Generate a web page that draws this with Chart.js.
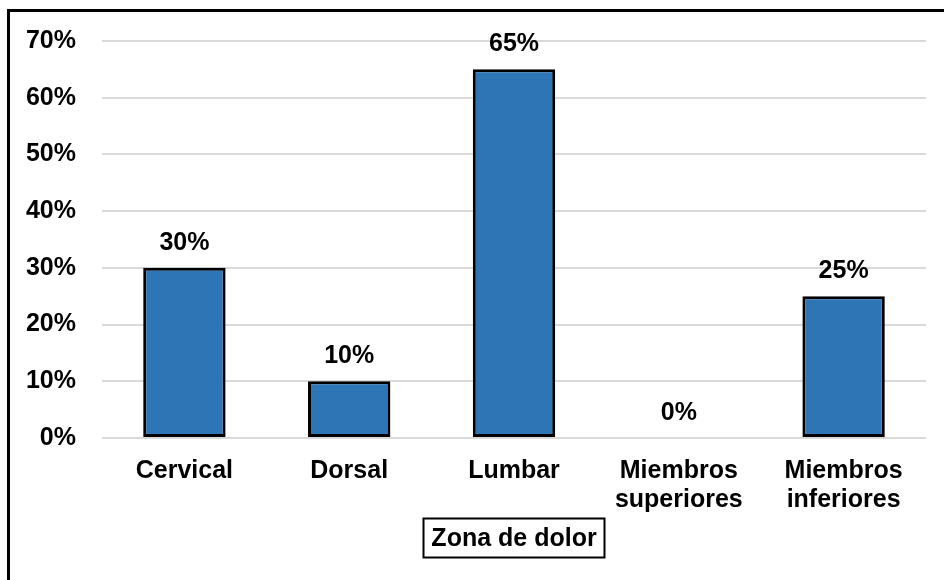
<!DOCTYPE html>
<html>
<head>
<meta charset="utf-8">
<script src="https://cdn.jsdelivr.net/npm/chart.js@4/dist/chart.umd.min.js"></script>
<style>
  html, body { margin: 0; padding: 0; background: #fff; }
  #box { width: 944px; height: 580px; }
</style>
</head>
<body>
<div id="box"><canvas id="zonaChart" width="944" height="580"></canvas></div>
<script>
// datos del grafico
const zonas = ['Cervical', 'Dorsal', 'Lumbar', ['Miembros', 'superiores'], ['Miembros', 'inferiores']];
const porcentajes = [30, 10, 65, 0, 25];
const yTicks = [0, 10, 20, 30, 40, 50, 60, 70];
const xTitle = 'Zona de dolor';

const barColor = '#2E75B6';
const gridColor = '#d9d9d9';
const fontFamily = '"Liberation Sans", Arial, sans-serif';
const fontSize = 25;

// marco negro (solo arriba e izquierda visibles)
const framePlugin = {
    id: 'frame',
    beforeDraw: function (chart) {
        const ctx = chart.ctx;
        ctx.save();
        ctx.fillStyle = '#fff';
        ctx.fillRect(0, 0, chart.width, chart.height);
        ctx.strokeStyle = '#000';
        ctx.lineWidth = 3;
        ctx.beginPath();
        ctx.moveTo(8.5, chart.height);
        ctx.lineTo(8.5, 10.5);
        ctx.lineTo(chart.width, 10.5);
        ctx.stroke();
        ctx.restore();
    }
};

// etiquetas de valor encima de cada barra
const valueLabels = {
    id: 'valueLabels',
    afterDatasetsDraw: function (chart) {
        const ctx = chart.ctx;
        const meta = chart.getDatasetMeta(0);
        ctx.save();
        ctx.font = 'bold ' + fontSize + 'px ' + fontFamily;
        ctx.fillStyle = '#000';
        ctx.textAlign = 'center';
        ctx.textBaseline = 'middle';
        meta.data.forEach(function (bar, i) {
            ctx.fillText(porcentajes[i] + '%', bar.x, bar.y - 25);
        });
        ctx.restore();
    }
};

// recuadro alrededor del titulo del eje x
const titleBox = {
    id: 'titleBox',
    afterDraw: function (chart) {
        const ctx = chart.ctx;
        ctx.save();
        ctx.font = 'bold ' + fontSize + 'px ' + fontFamily;
        const w = ctx.measureText(xTitle).width;
        const cx = (chart.chartArea.left + chart.chartArea.right) / 2;
        ctx.strokeStyle = '#000';
        ctx.lineWidth = 2;
        ctx.strokeRect(Math.round(cx - w / 2 - 8) + 0.5, 518.5, Math.round(w + 16), 39);
        ctx.restore();
    }
};

new Chart(document.getElementById('zonaChart'), {
    type: 'bar',
    data: {
        labels: zonas,
        datasets: [{
            data: porcentajes,
            backgroundColor: barColor,
            borderColor: '#000',
            borderWidth: 3,
            borderSkipped: false,
            categoryPercentage: 1,
            barPercentage: 0.5
        }]
    },
    options: {
        responsive: false,
        animation: false,
        layout: { padding: { left: 10, right: 18, top: 40, bottom: 20 } },
        plugins: {
            legend: { display: false },
            tooltip: { enabled: false }
        },
        scales: {
            y: {
                min: 0,
                max: 70,
                afterFit: function (scale) { scale.width = 92; },
                afterBuildTicks: function (scale) {
                    scale.ticks = yTicks.map(v => ({ value: v }));
                },
                border: { display: false },
                grid: { color: gridColor, lineWidth: 2, drawTicks: false },
                ticks: {
                    padding: 26,
                    color: '#000',
                    font: { family: fontFamily, size: fontSize, weight: 'bold' },
                    callback: v => v + '%'
                }
            },
            x: {
                afterFit: function (scale) { scale.height = 580 - 438 - 20; },
                border: { display: false },
                grid: { display: false, drawTicks: false },
                ticks: {
                    padding: 19,
                    color: '#000',
                    maxRotation: 0,
                    font: { family: fontFamily, size: fontSize, weight: 'bold', lineHeight: 1.16 }
                },
                title: {
                    display: true,
                    text: xTitle,
                    color: '#000',
                    padding: { top: 0, bottom: 6 },
                    font: { family: fontFamily, size: fontSize, weight: 'bold', lineHeight: 1.16 }
                }
            }
        }
    },
    plugins: [framePlugin, valueLabels, titleBox]
});
</script>
</body>
</html>
